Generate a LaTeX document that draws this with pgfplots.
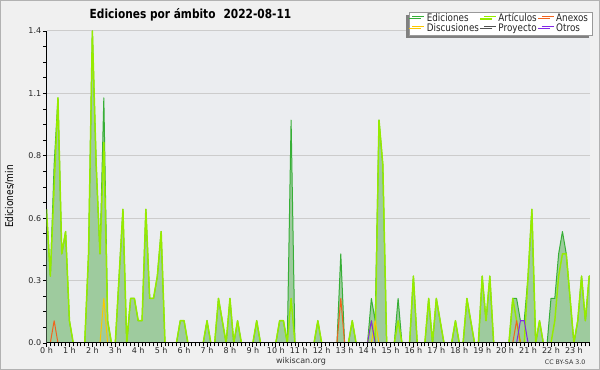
\documentclass[border=0pt]{standalone}
\usepackage{fontspec}
\setmainfont{DejaVu Sans}
\newfontfamily\condfont[FakeStretch=0.845]{DejaVu Sans}
\usepackage{pgfplots}
\pgfplotsset{compat=1.18}
\usepackage{pgfplotstable}
\usetikzlibrary{shadows}

\definecolor{outerbg}{RGB}{240,240,240}
\definecolor{plotbg}{RGB}{235,237,240}
\definecolor{gridc}{RGB}{204,204,204}
\definecolor{edfill}{RGB}{158,203,158}
\definecolor{edline}{RGB}{55,175,55}
\definecolor{artline}{RGB}{150,235,0}
\definecolor{anexc}{RGB}{240,100,30}
\definecolor{discc}{RGB}{250,200,0}
\definecolor{proyc}{RGB}{80,80,80}
\definecolor{otrosc}{RGB}{130,40,230}

\pgfplotstableread{
i ed art
0 0.6 0.6
1 0.3 0.3
2 0.8 0.7
3 1.1 1.1
4 0.4 0.4
5 0.5 0.5
6 0.1 0.1
7 0 0
8 0 0
9 0 0
10 0 0
11 0.4 0.4
12 1.4 1.4
13 0.8 0.8
14 0.4 0.4
15 1.1 0.9
16 0.1 0.1
17 0 0
18 0 0
19 0.3 0.3
20 0.6 0.6
21 0 0
22 0.2 0.2
23 0.2 0.2
24 0.1 0.1
25 0.1 0.1
26 0.6 0.6
27 0.2 0.2
28 0.2 0.2
29 0.3 0.3
30 0.5 0.5
31 0 0
32 0 0
33 0 0
34 0 0
35 0.1 0.1
36 0.1 0.1
37 0 0
38 0 0
39 0 0
40 0 0
41 0 0
42 0.1 0.1
43 0 0
44 0 0
45 0.2 0.2
46 0.1 0.1
47 0 0
48 0.2 0.2
49 0 0
50 0.1 0.1
51 0 0
52 0 0
53 0 0
54 0 0
55 0.1 0.1
56 0 0
57 0 0
58 0 0
59 0 0
60 0 0
61 0.1 0.1
62 0.1 0.1
63 0 0
64 1.0 0.2
65 0 0
66 0 0
67 0 0
68 0 0
69 0 0
70 0 0
71 0.1 0.1
72 0 0
73 0 0
74 0 0
75 0 0
76 0 0
77 0.4 0
78 0 0
79 0 0
80 0.1 0.1
81 0 0
82 0 0
83 0 0
84 0 0
85 0.2 0.1
86 0.1 0
87 1.0 1.0
88 0.8 0.8
89 0 0
90 0 0
91 0 0
92 0.2 0.1
93 0 0
94 0 0
95 0 0
96 0.3 0.3
97 0 0
98 0 0
99 0 0
100 0.2 0.2
101 0 0
102 0.2 0.2
103 0.1 0.1
104 0 0
105 0 0
106 0 0
107 0.1 0.1
108 0 0
109 0 0
110 0.2 0.2
111 0.1 0.1
112 0 0
113 0 0
114 0.3 0.3
115 0.1 0.1
116 0.3 0.3
117 0 0
118 0 0
119 0 0
120 0 0
121 0 0
122 0.2 0.2
123 0.2 0.1
124 0.1 0
125 0.1 0
126 0.3 0.3
127 0.6 0.6
128 0 0
129 0.1 0.1
130 0 0
131 0 0
132 0.2 0
133 0.2 0.1
134 0.4 0.3
135 0.5 0.4
136 0.4 0.4
137 0.2 0.2
138 0 0
139 0.1 0.1
140 0.3 0.3
141 0.1 0.1
142 0.3 0.3
143 0.3 0.3
}\edtable

\begin{document}
\begin{tikzpicture}
\fill[outerbg] (0pt,0pt) rectangle (450pt,277.5pt);
\draw[black!30, line width=1pt] (0.5pt,0.5pt) rectangle (449.5pt,277pt);
\begin{axis}[
  scale only axis, width=407.6pt, height=234pt,
  at={(34.875pt,20.25pt)}, anchor=south west,
  xmin=0, xmax=142.2, ymin=0, ymax=1.4,
  axis background/.style={fill=plotbg},
  axis x line*=bottom, axis y line*=left,
  axis line style={black, line width=0.75pt, -},
  xtick={0,6,...,138},
  xticklabels={0 h,1 h,2 h,3 h,4 h,5 h,6 h,7 h,8 h,9 h,10 h,11 h,12 h,13 h,14 h,15 h,16 h,17 h,18 h,19 h,20 h,21 h,22 h,23 h},
  minor xtick={0,1,...,142},
  ytick={0,0.28,0.56,0.84,1.12,1.4},
  yticklabels={0.0,0.3,0.6,0.8,1.1,1.4},
  minor ytick={0.07,0.14,0.21,0.35,0.42,0.49,0.63,0.70,0.77,0.91,0.98,1.05,1.19,1.26,1.33},
  tick align=outside,
  major tick length=2.8pt, minor tick length=2.5pt,
  tick style={black, line width=0.6pt},
  ymajorgrids, major grid style={gridc, line width=0.75pt},
  ticklabel style={font=\fontsize{6}{7}\selectfont, text=black!85},
  xticklabel style={inner sep=0.5pt},
  yticklabel style={inner sep=1pt},
  legend style={
    at={(1.0055,1.0609)}, anchor=north east,
    legend columns=3,
    fill=white, draw=black!40, line width=0.5pt,
    drop shadow={shadow xshift=-2.8pt, shadow yshift=-2pt, fill=black!50, opacity=1},
    font=\condfont\fontsize{7.8}{8}\selectfont,
    text=black!85,
    inner xsep=2pt, inner ysep=1.5pt,
    nodes={inner xsep=1.5pt, inner ysep=0.3pt, text height=5.3pt, text depth=1.4pt},
    /tikz/every even column/.append style={column sep=2pt},
    cells={anchor=west},
  },
  legend image code/.code={\draw[#1, line width=0.6pt] (0pt,2.2pt) -- (9pt,2.2pt);},
  unbounded coords=jump,
]
\addplot[fill=edfill, draw=none, forget plot] table[x=i,y=ed]{\edtable} \closedcycle;
\addplot[edline, line width=0.75pt, line join=round] table[x=i,y=ed]{\edtable};
\addlegendentry{Ediciones}
\addplot[artline, line width=1.1pt, line join=round] table[x=i,y=art]{\edtable};
\addlegendentry{Artículos}
\addplot[anexc, line width=0.75pt, line join=round] coordinates {
  (1,0) (2,0.1) (3,0) (3.5,nan)
  (76,0) (77,0.2) (78,0) (78.5,nan)
  (122,0) (123,0.1) (124,0)};
\addlegendentry{Anexos}
\addplot[discc, line width=0.75pt, line join=round] coordinates {
  (14,0) (15,0.2) (16,0) (16.5,nan)
  (85,0) (86,0.1) (87,0)};
\addlegendentry{Discusiones}
\addlegendimage{proyc}
\addlegendentry{Proyecto}
\addplot[otrosc, line width=0.75pt, line join=round] coordinates {
  (84,0) (85,0.1) (86,0) (86.5,nan)
  (123,0) (124,0.1) (125,0.1) (126,0)};
\addlegendentry{Otros}
\draw[black, line width=0.9pt] (axis cs:0,0) -- (axis cs:142.2,0);
\end{axis}
\node[rotate=90, font=\condfont\fontsize{8}{9}\selectfont] at (7.1pt,130.1pt) {Ediciones/min};
\node[anchor=base west, font=\condfont\bfseries\fontsize{9.4}{11}\selectfont] at (63.75pt,263.6pt) {Ediciones por ámbito\hspace{6pt}2022-08-11};
\node[font=\fontsize{6}{7}\selectfont, text=black!80] at (225.75pt,6.75pt) {wikiscan.org};
\node[anchor=east, font=\fontsize{4.7}{5}\selectfont, text=black!80] at (442.5pt,6pt) {CC BY-SA 3.0};
\end{tikzpicture}
\end{document}
